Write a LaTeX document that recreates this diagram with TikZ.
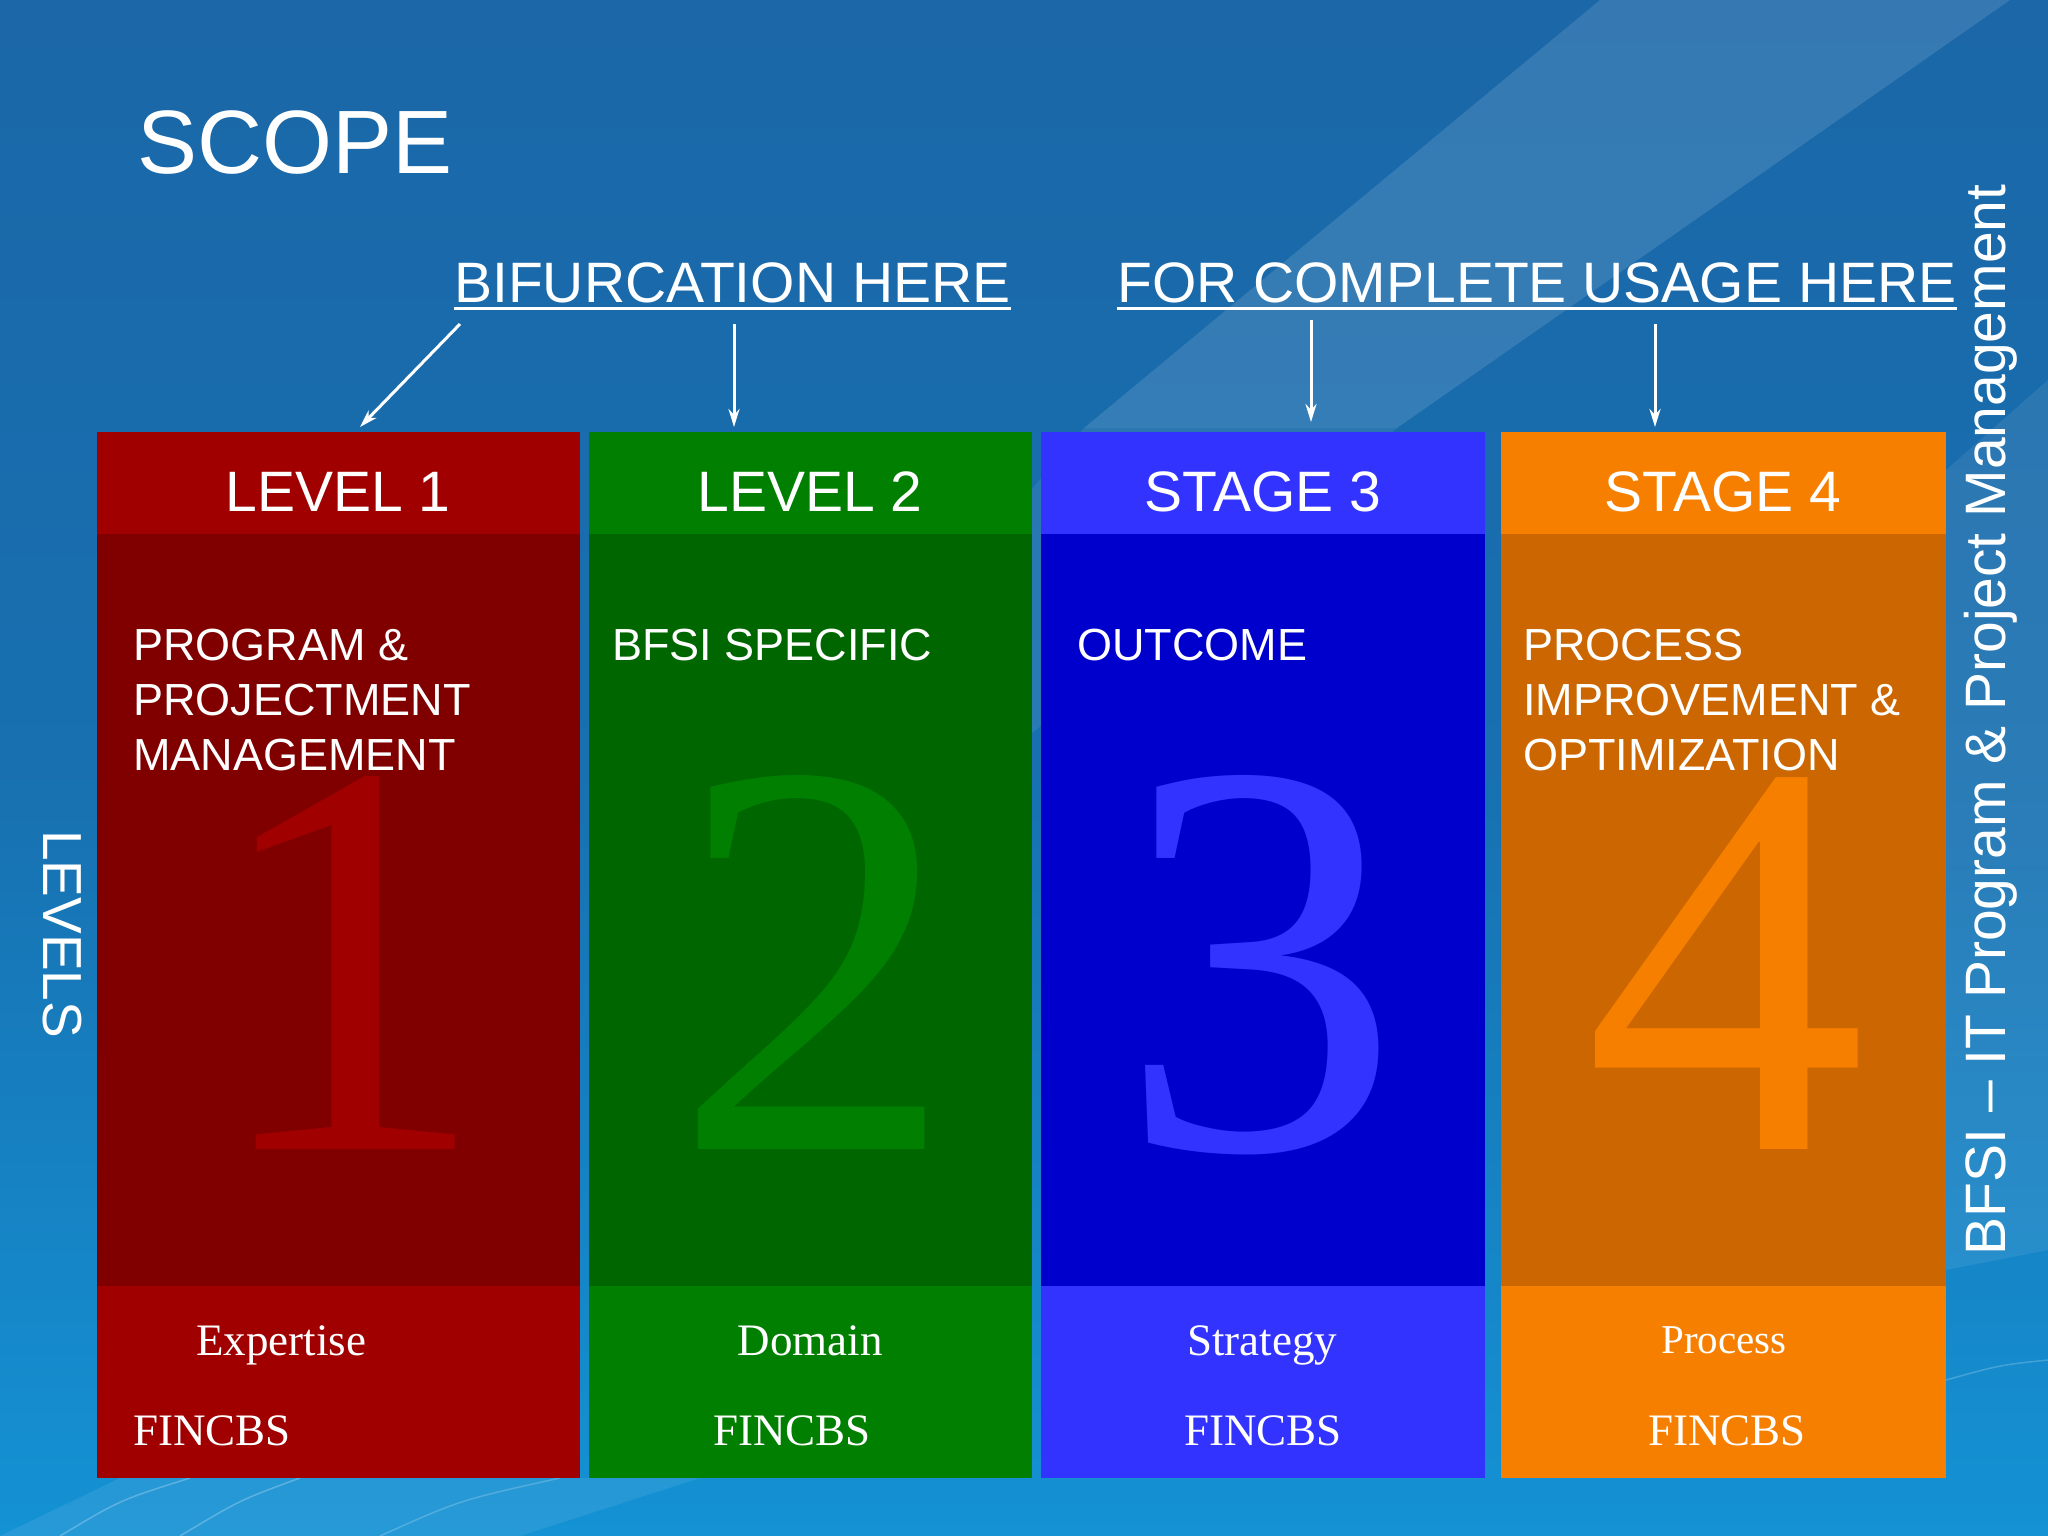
\documentclass[tikz,border=0pt]{standalone}
\usepackage{fontspec}
\setmainfont{Liberation Serif}
\setsansfont{Liberation Sans}
\usetikzlibrary{arrows.meta}
\definecolor{bgtop}{HTML}{1B67A8}
\definecolor{bgmid}{HTML}{1870B0}
\definecolor{bgbot}{HTML}{1492D4}
\definecolor{redH}{HTML}{A00000}
\definecolor{redB}{HTML}{800000}
\definecolor{grnH}{HTML}{007F00}
\definecolor{grnB}{HTML}{006600}
\definecolor{bluH}{HTML}{3333FF}
\definecolor{bluB}{HTML}{0000CC}
\definecolor{orgH}{HTML}{F77F00}
\definecolor{orgB}{HTML}{CC6600}
\begin{document}
\begin{tikzpicture}[x=1pt,y=-1pt,
  blk/.style={rectangle, inner sep=0pt, outer sep=0pt, anchor=north west, draw=none},
  hdr/.style={font=\sffamily\fontsize{57}{60}\selectfont, text=white, inner sep=0pt, anchor=base},
  lbl/.style={font=\sffamily\fontsize{57}{60}\selectfont, text=white, inner sep=0pt, anchor=base west},
  bodytxt/.style={font=\sffamily\fontsize{45}{55}\selectfont, text=white, inner sep=0pt, anchor=north west, align=left},
  foot/.style={font=\rmfamily\fontsize{45}{50}\selectfont, text=white, inner sep=0pt, anchor=base},
  bignum/.style={font=\rmfamily\fontsize{565}{565}\selectfont, inner sep=0pt, anchor=base},
  arr/.style={white, line width=3pt, -{Stealth[length=18pt,width=11pt]}},
  uline/.style={white, line width=3pt}
]
\useasboundingbox (0,0) rectangle (2048,1536);
% background
\shade[top color=bgtop, bottom color=bgbot, middle color=bgmid] (0,0) rectangle (2048,1536);
\fill[white, opacity=0.12] (1600,0) -- (2010,0) -- (1397,428) -- (1084,428) -- cycle;
\fill[white, opacity=0.07] (1084,428) -- (1397,428) -- (1000,760) -- (800,760) -- cycle;
\fill[white, opacity=0.08] (2048,380) -- (2048,1250) -- (1946,1270) -- (1946,470) -- cycle;
\fill[white, opacity=0.08] (0,1536) -- (120,1478) -- (700,1478) -- (520,1536) -- cycle;
\draw[white, opacity=0.25, line width=1.5pt] (60,1536) .. controls (120,1500) .. (190,1478);
\draw[white, opacity=0.25, line width=1.5pt] (180,1536) .. controls (240,1500) .. (300,1478);
\draw[white, opacity=0.2, line width=1.5pt] (380,1536) .. controls (460,1500) .. (560,1478);
\draw[white, opacity=0.2, line width=1.5pt] (1946,1380) .. controls (2000,1365) .. (2048,1360);

% title
\node[font=\sffamily\fontsize{90}{90}\selectfont, text=white, inner sep=0pt, anchor=base west] (title) at (137,173) {SCOPE};

% labels
\node[lbl] (lb) at (454,302) {BIFURCATION HERE};
\node[lbl] (lf) at (1117,302) {FOR COMPLETE USAGE HERE};
\draw[uline] ([yshift=-6pt]lb.base west) -- ([yshift=-6pt]lb.base east);
\draw[uline] ([yshift=-6pt]lf.base west) -- ([yshift=-6pt]lf.base east);

% columns: header, body, footer
\node[blk, fill=redB, minimum width=483pt, minimum height=944pt] (b1) at (97,534) {};
\node[blk, fill=redH, minimum width=483pt, minimum height=102pt] (h1) at (97,432) {};
\node[blk, fill=redH, minimum width=483pt, minimum height=192pt] (f1) at (97,1286) {};

\node[blk, fill=grnB, minimum width=443pt, minimum height=944pt] (b2) at (589,534) {};
\node[blk, fill=grnH, minimum width=443pt, minimum height=102pt] (h2) at (589,432) {};
\node[blk, fill=grnH, minimum width=443pt, minimum height=192pt] (f2) at (589,1286) {};

\node[blk, fill=bluB, minimum width=444pt, minimum height=944pt] (b3) at (1041,534) {};
\node[blk, fill=bluH, minimum width=444pt, minimum height=102pt] (h3) at (1041,432) {};
\node[blk, fill=bluH, minimum width=444pt, minimum height=192pt] (f3) at (1041,1286) {};

\node[blk, fill=orgB, minimum width=445pt, minimum height=944pt] (b4) at (1501,534) {};
\node[blk, fill=orgH, minimum width=445pt, minimum height=102pt] (h4) at (1501,432) {};
\node[blk, fill=orgH, minimum width=445pt, minimum height=192pt] (f4) at (1501,1286) {};

% big numerals
\node[bignum, text=redH] (n1) at (348,1149) {1};
\node[bignum, text=grnH] (n2) at (815,1149) {2};
\node[bignum, text=bluH] (n3) at (1260,1149) {3};
\node[bignum, text=orgH] (n4) at (1726,1149) {4};

% headers
\node[hdr] (t1) at (338,511) {LEVEL 1};
\node[hdr] (t2) at (810,511) {LEVEL 2};
\node[hdr] (t3) at (1263,511) {STAGE 3};
\node[hdr] (t4) at (1723,511) {STAGE 4};

% body text
\node[bodytxt] (d1) at (133,629) {PROGRAM \&\\PROJECTMENT\\MANAGEMENT};
\node[bodytxt] (d2) at (612,629) {BFSI SPECIFIC};
\node[bodytxt] (d3) at (1077,629) {OUTCOME};
\node[bodytxt] (d4) at (1523,629) {PROCESS\\IMPROVEMENT \&\\OPTIMIZATION};

% footer text
\node[foot] (e1) at (281,1355) {Expertise};
\node[foot] (e2) at (810,1355) {Domain};
\node[foot] (e3) at (1262,1355) {Strategy};
\node[foot, font=\rmfamily\fontsize{41}{46}\selectfont] (e4) at (1724,1353) {Process};
\node[foot, anchor=base west] (c1) at (133,1445) {FINCBS};
\node[foot] (c2) at (792,1445) {FINCBS};
\node[foot] (c3) at (1263,1445) {FINCBS};
\node[foot] (c4) at (1727,1445) {FINCBS};

% side texts
\node[font=\sffamily\fontsize{55}{55}\selectfont, text=white, inner sep=0pt, rotate=-90] (lv) at (62,934) {LEVELS};
\node[font=\sffamily\fontsize{57}{57}\selectfont, text=white, inner sep=0pt, rotate=90] (side) at (1991,720) {BFSI – IT Program \& Project Management};

% arrows
\coordinate (a1s) at (460,324);
\coordinate (a1e) at (360,427);
\coordinate (a2s) at (734,324);
\coordinate (a2e) at (734,427);
\coordinate (a3s) at (1311,320);
\coordinate (a3e) at (1311,422);
\coordinate (a4s) at (1655,324);
\coordinate (a4e) at (1655,427);
\draw[arr] (a1s) -- (a1e);
\draw[arr] (a2s) -- (a2e);
\draw[arr] (a3s) -- (a3e);
\draw[arr] (a4s) -- (a4e);
\end{tikzpicture}
\end{document}
